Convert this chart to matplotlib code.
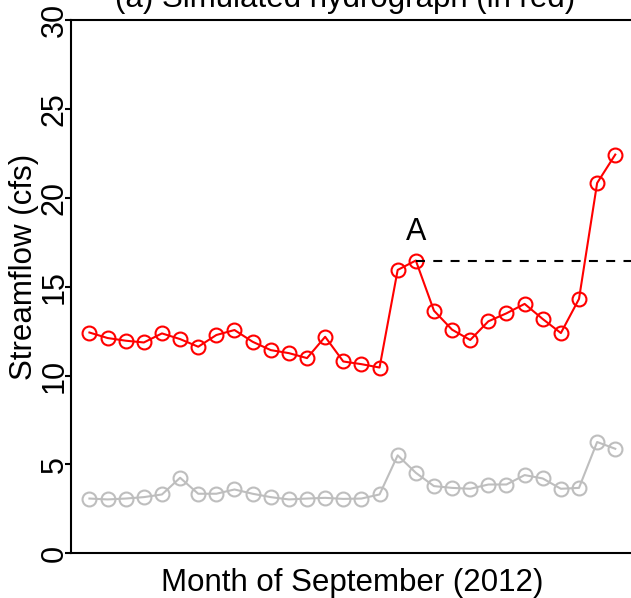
import matplotlib
matplotlib.use("Agg")
import matplotlib.pyplot as plt
import numpy as np

plt.rcParams['font.family'] = ['Liberation Sans', 'DejaVu Sans']

days = list(range(1, 31))
simulated = [12.42, 12.11, 11.96, 11.86, 12.37, 12.05, 11.62, 12.28, 12.56, 11.90,
             11.43, 11.26, 10.98, 12.18, 10.79, 10.64, 10.45, 15.94, 16.47, 13.65,
             12.58, 12.00, 13.05, 13.50, 14.03, 13.18, 12.39, 14.31, 20.83, 22.43]
observed = [3.08, 3.03, 3.08, 3.16, 3.31, 4.25, 3.35, 3.35, 3.59, 3.35,
            3.16, 3.03, 3.08, 3.12, 3.06, 3.08, 3.31, 5.51, 4.53, 3.78,
            3.68, 3.63, 3.87, 3.87, 4.40, 4.21, 3.63, 3.68, 6.26, 5.88]
yticks = [0, 5, 10, 15, 20, 25, 30]
peak_index = 18
peak_label = "A"

W, H = 631, 598
fig = plt.figure(figsize=(W / 100, H / 100), dpi=100)
left_px, right_px, top_px, bottom_px = 71.3, 633.4, 20.0, 553.3
ax = fig.add_axes([left_px / W, (H - bottom_px) / H,
                   (right_px - left_px) / W, (bottom_px - top_px) / H])

ax.plot(days, observed, color='#BEBEBE', lw=1.5, marker='o', ms=10,
        mfc='none', mec='#BEBEBE', mew=1.5)
ax.plot(days, simulated, color='#FF0000', lw=1.5, marker='o', ms=10,
        mfc='none', mec='#FF0000', mew=1.5)

ax.set_xlim(0, 31)
ax.set_ylim(0, 30)
peak_x = days[peak_index]
peak_y = simulated[peak_index]
ax.plot([peak_x, 31], [peak_y, peak_y], color='black', lw=1.5,
        linestyle=(0, (4.3, 4.0)))
ax.annotate(peak_label, (peak_x, peak_y), xytext=(0, 14.8), textcoords='offset points',
            ha='center', va='baseline', fontsize=22)

ax.set_xticks([])
ax.set_yticks(yticks)
ax.set_yticklabels([str(t) for t in yticks], rotation=90, va='center', fontsize=22)
ax.tick_params(axis='y', direction='out', length=4.3, width=1.5, pad=-3.2)
for s in ax.spines.values():
    s.set_linewidth(1.5)

fig.text(24 / W, (H - 267) / H, "Streamflow (cfs)", rotation=90,
         ha='center', va='center', fontsize=22.5)
fig.text(352 / W, (H - 591) / H, "Month of September (2012)",
         ha='center', va='baseline', fontsize=22.5)
fig.text(345 / W, (H - 7) / H, "(a) Simulated hydrograph (in red)",
         ha='center', va='baseline', fontsize=22.5)

fig.savefig("out.png", dpi=100)
